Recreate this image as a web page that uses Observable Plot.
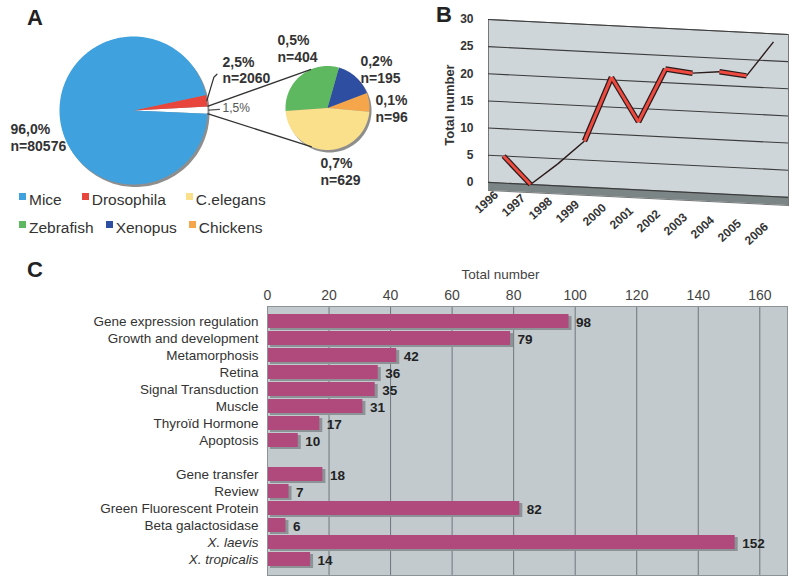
<!DOCTYPE html>
<html><head><meta charset="utf-8">
<script src="https://cdn.jsdelivr.net/npm/d3@7"></script>
<script src="https://cdn.jsdelivr.net/npm/@observablehq/plot@0.6"></script>
<style>
body{margin:0;background:#fff;font-family:Arial,"Liberation Sans",Helvetica,sans-serif;}
#wrap{position:relative;width:800px;height:584px;overflow:hidden;background:#fff;}
#wrap svg{position:absolute;}
.plabel{position:absolute;font-weight:bold;font-size:22px;color:#222;line-height:1;}
.legrow{position:absolute;left:19px;display:flex;font-size:15.5px;color:#333;line-height:1;}
.legitem{display:flex;align-items:flex-start;}
.sw{width:7px;height:7px;margin-top:1px;margin-right:3px;}
</style></head>
<body><div id="wrap"></div>
<script>
// ---------- DATA ----------
const speciesNames = ["Mice","Drosophila","C.elegans","Zebrafish","Xenopus","Chickens"];
const speciesColors = ["#3fa1de","#e8453c","#fbe08c","#5db860","#2e4ea2","#f6a64a"];
const legendRows = [["Mice","Drosophila","C.elegans"],["Zebrafish","Xenopus","Chickens"]];

const bigPieNames = ["Others","Drosophila","Mice"];
const bigPieValues = [1324, 2060, 80576];
const bigPiePct = ["1,5%","2,5%","96,0%"];

const smallPieNames = ["Chickens","Xenopus","Zebrafish","C.elegans"];
const smallPieValues = [96, 195, 404, 629];
const smallPiePct = ["0,1%","0,2%","0,5%","0,7%"];

const years = [1996,1997,1998,1999,2000,2001,2002,2003,2004,2005,2006];
const yearTotals = [5,0,4,8.5,20.5,12.5,22.5,22,22.5,22,28.5];
const yearTicks = [0,5,10,15,20,25,30];

const topics = ["Gene expression regulation","Growth and development","Metamorphosis","Retina","Signal Transduction","Muscle","Thyroïd Hormone","Apoptosis","","Gene transfer","Review","Green Fluorescent Protein","Beta galactosidase","X. laevis","X. tropicalis"];
const topicCounts = [98,79,42,36,35,31,17,10,null,18,7,82,6,152,14];
const italicTopics = ["X. laevis","X. tropicalis"];
const countTicks = [0,20,40,60,80,100,120,140,160];

// ---------- LAYOUT ----------
const wrap = document.getElementById("wrap");
const FONT = 'Arial,"Liberation Sans",Helvetica,sans-serif';
function place(el, left, top){ el.style.left = left+"px"; el.style.top = top+"px"; wrap.appendChild(el); return el; }
function label(txt, left, top){ const d=document.createElement("div"); d.className="plabel"; d.textContent=txt; place(d,left,top); }

// ---------- PANEL A ----------
const colorOf = n => n==="Others" ? "#ffffff" : speciesColors[speciesNames.indexOf(n)];
const geomA = {big:{cx:133, cy:110, r:74, start:-2.5}, small:{cx:327, cy:107.5, r:42, start:-5}};
// label placement (angle deg, distance px from pie centre, anchor, bold)
const labelPolarA = {
  Mice:[192.2,125.8,"start",true], Drosophila:[24.7,98,"start",true], Others:[1.6,89,"start",false],
  Chickens:[0,48,"start",true], Xenopus:[49.8,51,"start",true], Zebrafish:[130,77.7,"start",true], "C.elegans":[263.7,63.9,"start",true]
};
const rad = a => a*Math.PI/180;
const polar = (g, a, d) => [g.cx + d*Math.cos(rad(a)), g.cy - d*Math.sin(rad(a))];
function slices(names, values, g){
  const tot = d3.sum(values); let a = g.start;
  return values.map((v,i)=>{ const span=v/tot*360; const s={name:names[i], value:v, a0:a, a1:a+span, mid:a+span/2, g}; a+=span; return s; });
}
function slicePoints(s){
  const pts=[{name:s.name, x:s.g.cx, y:s.g.cy, fill:colorOf(s.name)}];
  const n=Math.max(2,Math.ceil(s.a1-s.a0));
  for(let i=0;i<=n;i++){ const [x,y]=polar(s.g, s.a0+(s.a1-s.a0)*i/n, s.g.r); pts.push({name:s.name,x,y,fill:colorOf(s.name)}); }
  return pts;
}
function circlePoints(g, key){ return d3.range(0,361,2).map(a=>{const [x,y]=polar(g,a,g.r); return {name:key,x,y};}); }
const bigS = slices(bigPieNames, bigPieValues, geomA.big);
const smallS = slices(smallPieNames, smallPieValues, geomA.small);
const piePts = [...bigS, ...smallS].flatMap(slicePoints);
const shadowPts = [...circlePoints(geomA.big,"b"), ...circlePoints(geomA.small,"s")];
const others = bigS[0];
const connectors = [
  {p:polar(geomA.big, others.a1, geomA.big.r), q:polar(geomA.small, 113, geomA.small.r)},
  {p:polar(geomA.big, others.a0, geomA.big.r), q:polar(geomA.small, 248, geomA.small.r)}
];
const labelsA = [
  ...bigS.map((s,i)=>({name:s.name, text: s.name==="Others" ? bigPiePct[i] : bigPiePct[i]+"\nn="+bigPieValues[i], g:s.g})),
  ...smallS.map((s,i)=>({name:s.name, text: smallPiePct[i]+"\nn="+smallPieValues[i], g:s.g}))
].map(d=>{ const [a,dist,anchor,bold]=labelPolarA[d.name]; const [x,y]=polar(d.g,a,dist); return {...d,x,y,anchor,bold}; });
const dros = bigS[1];
const drosLeader = [polar(geomA.big, dros.mid, geomA.big.r), polar(geomA.big, 22.5, 87), polar(geomA.big, 23.5, 91)].map(([x,y])=>({x,y}));
const othLeader = [polar(geomA.big, others.mid, geomA.big.r+1), polar(geomA.big, 0.8, 86)].map(([x,y])=>({x,y}));

const plotA = Plot.plot({
  width:420, height:195, margin:0,
  x:{domain:[0,420], range:[0,420], axis:null},
  y:{domain:[0,195], range:[0,195], axis:null},
  color:{type:"identity"},
  style:{fontFamily:FONT, background:"transparent"},
  marks:[
    Plot.line(shadowPts, {x:"x", y:"y", z:"name", fill:"#8e8e8e", curve:"linear-closed", dx:2, dy:2.5}),
    Plot.line(piePts, {x:"x", y:"y", z:"name", fill:"fill", curve:"linear-closed"}),
    Plot.link(connectors, {x1:d=>d.p[0], y1:d=>d.p[1], x2:d=>d.q[0], y2:d=>d.q[1], stroke:"#333", strokeWidth:1.3}),
    Plot.line(drosLeader, {x:"x", y:"y", stroke:"#333", strokeWidth:1.2}),
    Plot.line(othLeader, {x:"x", y:"y", stroke:"#555", strokeWidth:1.2}),
    Plot.text(labelsA.filter(d=>d.bold), {x:"x", y:"y", text:"text", textAnchor:"start", fontWeight:"bold", fontSize:14, lineHeight:1.2, fill:"#333"}),
    Plot.text(labelsA.filter(d=>!d.bold), {x:"x", y:"y", text:"text", textAnchor:"start", fontSize:12, fill:"#555"})
  ]
});
place(plotA, 0, 0);

legendRows.forEach((row, r)=>{
  const d=document.createElement("div"); d.className="legrow";
  row.forEach((n,i)=>{
    const it=document.createElement("div"); it.className="legitem";
    it.style.marginRight = (r===0 ? 20 : 12)+"px";
    const sw=document.createElement("div"); sw.className="sw"; sw.style.background=colorOf(n);
    const t=document.createElement("span"); t.textContent=n;
    it.appendChild(sw); it.appendChild(t); d.appendChild(it);
  });
  place(d, 19, 192 + r*28);
});
label("A", 27, 7);

// ---------- PANEL B ----------
const mlB = 58, skewB = 0.05, skewLbl = 0.117;
const dataB = years.map((y,i)=>({year:y, v:yearTotals[i]}));
const segs = d3.pairs(dataB).map(([a,b])=>({x1:a.year, y1:a.v, x2:b.year, y2:b.v, face: !(b.v>a.v && b.v-a.v<7)}));
const plotB = Plot.plot({
  width:370, height:250, marginLeft:mlB, marginRight:12, marginTop:19, marginBottom:60,
  style:{fontFamily:FONT, fontSize:"12px", fontWeight:"bold", color:"#333", background:"transparent"},
  x:{type:"point", domain:years, padding:0.5, label:null, tickSize:0, tickRotate:-42, tickPadding:1, tickFormat:d=>String(d)},
  y:{domain:[-1.5,30], ticks:yearTicks, tickSize:0, tickPadding:15, label:"Total number", labelAnchor:"center", labelOffset:44, labelArrow:"none"},
  marks:[
    Plot.frame({fill:"#cfd6da", stroke:"#777"}),
    Plot.rect([0], {y1:-1.5, y2:0, fill:"#7b8585"}),
    Plot.ruleY(yearTicks, {stroke:"#3c3c3c", strokeWidth:1.1}),
    Plot.link(segs, {x1:"x1", y1:"y1", x2:"x2", y2:"y2", stroke:"#2a1a1a", strokeWidth:d=>d.face?5.5:1.4}),
    Plot.link(segs.filter(d=>d.face), {x1:"x1", y1:"y1", x2:"x2", y2:"y2", stroke:"#ee4a40", strokeWidth:3})
  ]
});
place(plotB, 430, 0);
(function(){
  const svg = d3.select(plotB);
  const keep = new Set(["y-axis tick label","y-axis label","x-axis tick label"]);
  svg.selectAll(":scope > g, :scope > rect, :scope > path").each(function(){
    const el=d3.select(this); const lab=el.attr("aria-label");
    if (keep.has(lab)) return;
    const old=el.attr("transform")||"";
    el.attr("transform", `matrix(1,${skewB},0,1,0,${-skewB*mlB}) ${old}`);
  });
  svg.selectAll('g[aria-label="x-axis tick label"] text').each(function(){
    const el=d3.select(this);
    const old=el.attr("transform")||"";
    const m = old.match(/translate\(\s*([-\d.eE]+)/);
    const x = m ? +m[1] : (+el.attr("x") || 0);
    if (!isFinite(x)) return;
    el.attr("transform", `translate(-7,${(skewLbl*(x-mlB)).toFixed(2)}) ${old}`);
  });
  svg.selectAll('g[aria-label="y-axis label"] text').style("font-size","13px");
})();
label("B", 436, 4);

// ---------- PANEL C ----------
const barData = topics.map((t,i)=>({t, v:topicCounts[i]})).filter(d=>d.v!=null);
const plotC = Plot.plot({
  width:800, height:322, marginLeft:267, marginRight:13, marginTop:44, marginBottom:9,
  style:{fontFamily:FONT, fontSize:"14px", color:"#444", background:"transparent"},
  x:{domain:[0,169], axis:"top", ticks:countTicks, tickSize:0, tickPadding:7, label:null},
  y:{domain:topics, axis:null, paddingInner:0.17, paddingOuter:0.06},
  marks:[
    Plot.frame({fill:"#c2cace"}),
    Plot.ruleX(countTicks.filter(d=>d>0), {stroke:"#6f777b", strokeWidth:1}),
    Plot.barX(barData, {x:"v", y:"t", fill:"#8c9296", dx:3, dy:2}),
    Plot.barX(barData, {x:"v", y:"t", fill:"#b04a7d"}),
    Plot.text(barData, {x:"v", y:"t", text:d=>String(d.v), dx:7, dy:1, textAnchor:"start", fontWeight:"bold", fontSize:13.5, fill:"#222"}),
    Plot.text(topics.filter(t=>t && !italicTopics.includes(t)), {y:d=>d, text:d=>d, frameAnchor:"left", dx:-9, textAnchor:"end", fontSize:13.5, fill:"#333"}),
    Plot.text(topics.filter(t=>italicTopics.includes(t)), {y:d=>d, text:d=>d, frameAnchor:"left", dx:-9, textAnchor:"end", fontSize:13.5, fontStyle:"italic", fill:"#333"}),
    Plot.text(["Total number"], {frameAnchor:"top", text:d=>d, dx:-27, dy:-37, fontSize:13.5, fill:"#444"}),
    Plot.frame({stroke:"#8d9498"})
  ]
});
place(plotC, 0, 262);
label("C", 27, 259);
</script>
</body></html>
